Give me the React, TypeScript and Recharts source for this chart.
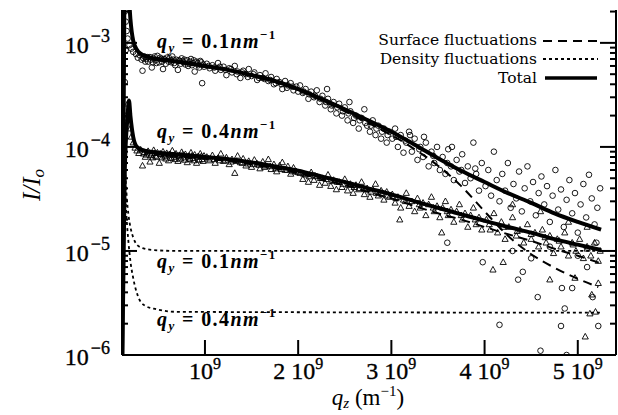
import { ComposedChart, Line, Scatter, XAxis, YAxis } from 'recharts'

// q_z in units of 1e9 m^-1, intensity I/I_o
const xTicks = [1, 2, 3, 4, 5]
const yDecades = [1e-6, 1e-5, 1e-4, 1e-3]
const yMinor = [
  2e-6, 3e-6, 4e-6, 5e-6, 6e-6, 7e-6, 8e-6, 9e-6,
  2e-5, 3e-5, 4e-5, 5e-5, 6e-5, 7e-5, 8e-5, 9e-5,
  2e-4, 3e-4, 4e-4, 5e-4, 6e-4, 7e-4, 8e-4, 9e-4, 2e-3,
]

const total01 = [
  [0.112, 8e-7], [0.135, 2.5e-3], [0.16, 5e-3], [0.18, 3.2e-3], [0.2, 1.7e-3], [0.23, 1.05e-3],
  [0.27, 8.6e-4], [0.3, 8.0e-4], [0.4, 7.3e-4], [0.6, 6.8e-4], [0.8, 6.4e-4], [1.0, 6.0e-4],
  [1.25, 5.5e-4], [1.5, 4.9e-4], [1.75, 4.3e-4], [2.0, 3.6e-4], [2.25, 2.9e-4], [2.5, 2.3e-4],
  [2.75, 1.8e-4], [3.0, 1.4e-4], [3.25, 1.05e-4], [3.5, 7.8e-5], [3.75, 5.9e-5], [4.0, 4.6e-5],
  [4.25, 3.6e-5], [4.5, 2.9e-5], [4.75, 2.3e-5], [5.0, 1.9e-5], [5.25, 1.6e-5],
]
const surface01 = [
  [0.3, 7.9e-4], [0.4, 7.2e-4], [0.6, 6.7e-4], [0.8, 6.3e-4], [1.0, 5.9e-4], [1.25, 5.4e-4],
  [1.5, 4.8e-4], [1.75, 4.2e-4], [2.0, 3.5e-4], [2.25, 2.8e-4], [2.5, 2.2e-4], [2.75, 1.7e-4],
  [3.0, 1.3e-4], [3.25, 9.5e-5], [3.5, 6.6e-5], [3.75, 4.2e-5], [4.0, 2.4e-5], [4.25, 1.4e-5],
  [4.5, 9.3e-6], [4.75, 6.9e-6], [5.0, 5.4e-6], [5.22, 4.5e-6],
]
const density01 = [
  [0.112, 9e-7], [0.125, 4e-4], [0.14, 8e-5], [0.16, 3.4e-5], [0.18, 2.2e-5], [0.2, 1.7e-5],
  [0.23, 1.35e-5], [0.27, 1.15e-5], [0.34, 1.06e-5], [0.45, 1.02e-5], [0.7, 1.0e-5], [5.25, 1.0e-5],
]
const total04 = [
  [0.112, 8e-7], [0.14, 6e-5], [0.17, 2.0e-4], [0.185, 2.8e-4], [0.2, 2.0e-4], [0.23, 1.25e-4],
  [0.27, 1.0e-4], [0.35, 9.2e-5], [0.5, 8.8e-5], [0.75, 8.4e-5], [1.0, 8.0e-5], [1.25, 7.6e-5],
  [1.5, 7.1e-5], [1.75, 6.5e-5], [2.0, 5.9e-5], [2.25, 5.2e-5], [2.5, 4.6e-5], [2.75, 4.0e-5],
  [3.0, 3.5e-5], [3.25, 3.0e-5], [3.5, 2.6e-5], [3.75, 2.25e-5], [4.0, 1.95e-5], [4.25, 1.7e-5],
  [4.5, 1.5e-5], [4.75, 1.3e-5], [5.0, 1.15e-5], [5.25, 1.02e-5],
]
const surface04 = [
  [0.3, 9.3e-5], [0.5, 8.5e-5], [0.75, 8.1e-5], [1.0, 7.7e-5], [1.25, 7.3e-5], [1.5, 6.8e-5],
  [1.75, 6.2e-5], [2.0, 5.6e-5], [2.25, 4.9e-5], [2.5, 4.3e-5], [2.75, 3.7e-5], [3.0, 3.2e-5],
  [3.25, 2.7e-5], [3.5, 2.3e-5], [3.75, 2.0e-5], [4.0, 1.7e-5], [4.25, 1.45e-5], [4.5, 1.25e-5],
  [4.75, 1.05e-5], [5.0, 9.0e-6], [5.25, 7.6e-6],
]
const density04 = [
  [0.112, 9e-7], [0.13, 1e-4], [0.15, 3e-5], [0.18, 1.2e-5], [0.2, 8e-6], [0.23, 5.5e-6],
  [0.28, 3.7e-6], [0.35, 3.0e-6], [0.48, 2.75e-6], [0.7, 2.6e-6], [5.25, 2.55e-6],
]

// measured points, q_y = 0.1 nm^-1 (circles)
const circles = [
  [0.14, 2.0e-3], [0.15, 1.6e-3], [0.16, 1.3e-3], [0.15, 8.5e-4], [0.14, 4.2e-4], [0.17, 1.1e-3],
  [0.19, 9.5e-4], [0.21, 8.8e-4], [0.23, 8.2e-4], [0.26, 7.8e-4], [0.28, 7.2e-4], [0.3, 7.6e-4],
  [0.32, 6.9e-4], [0.33, 5.4e-4], [0.35, 7.4e-4], [0.37, 7.0e-4], [0.39, 6.6e-4], [0.41, 7.3e-4],
  [0.43, 5.8e-4], [0.45, 7.1e-4], [0.47, 6.8e-4], [0.49, 7.5e-4], [0.51, 6.5e-4], [0.53, 7.0e-4],
  [0.55, 5.6e-4], [0.57, 6.9e-4], [0.59, 7.2e-4], [0.61, 6.6e-4], [0.63, 6.8e-4], [0.65, 7.4e-4],
  [0.67, 6.4e-4], [0.69, 6.9e-4], [0.71, 5.5e-4], [0.73, 6.7e-4], [0.75, 7.1e-4], [0.77, 6.5e-4],
  [0.79, 6.2e-4], [0.81, 6.8e-4], [0.83, 6.3e-4], [0.85, 7.0e-4], [0.87, 6.4e-4], [0.89, 5.3e-4],
  [0.91, 6.6e-4], [0.93, 6.1e-4], [0.95, 6.7e-4], [0.97, 4.1e-4], [0.99, 5.9e-4],
  [1.02, 6.3e-4], [1.05, 5.7e-4], [1.08, 6.1e-4], [1.11, 5.4e-4], [1.14, 6.4e-4], [1.17, 5.5e-4],
  [1.2, 5.9e-4], [1.23, 4.9e-4], [1.26, 5.7e-4], [1.29, 5.2e-4], [1.32, 6.0e-4], [1.35, 5.3e-4],
  [1.38, 4.6e-4], [1.41, 5.4e-4], [1.44, 5.0e-4], [1.47, 5.6e-4], [1.5, 4.8e-4], [1.53, 5.2e-4],
  [1.56, 4.4e-4], [1.59, 4.9e-4], [1.62, 4.6e-4], [1.65, 5.1e-4], [1.68, 4.3e-4], [1.71, 4.7e-4],
  [1.74, 4.0e-4], [1.77, 4.5e-4], [1.8, 4.2e-4], [1.83, 3.6e-4], [1.86, 4.3e-4], [1.89, 3.9e-4],
  [1.92, 4.1e-4], [1.95, 3.5e-4], [1.98, 3.8e-4],
  [2.02, 3.9e-4], [2.05, 3.3e-4], [2.08, 3.6e-4], [2.11, 2.9e-4], [2.14, 3.4e-4], [2.17, 3.0e-4],
  [2.2, 3.5e-4], [2.23, 2.7e-4], [2.26, 3.1e-4], [2.29, 2.5e-4], [2.31, 3.6e-4], [2.32, 2.9e-4],
  [2.35, 2.3e-4], [2.38, 2.7e-4], [2.41, 2.1e-4], [2.44, 2.6e-4], [2.47, 2.0e-4], [2.5, 2.4e-4],
  [2.53, 1.8e-4], [2.55, 2.7e-4], [2.56, 2.2e-4], [2.59, 1.7e-4], [2.62, 2.0e-4], [2.65, 1.5e-4],
  [2.68, 1.9e-4], [2.71, 2.3e-4], [2.74, 1.6e-4], [2.77, 1.4e-4], [2.8, 1.8e-4], [2.83, 1.3e-4],
  [2.86, 1.6e-4], [2.89, 1.2e-4], [2.92, 1.5e-4], [2.95, 1.1e-4], [2.98, 1.4e-4],
  [3.01, 1.2e-4], [3.04, 1.5e-4], [3.07, 1.0e-4], [3.1, 1.3e-4], [3.13, 8.8e-5], [3.16, 1.1e-4],
  [3.19, 1.4e-4], [3.22, 9.0e-5], [3.25, 1.2e-4], [3.28, 7.5e-5], [3.31, 1.0e-4], [3.34, 8.0e-5],
  [3.37, 1.1e-4], [3.4, 6.5e-5], [3.43, 9.0e-5], [3.46, 7.0e-5], [3.49, 1.0e-4], [3.52, 6.0e-5],
  [3.55, 8.0e-5], [3.58, 5.5e-5], [3.61, 9.5e-5], [3.64, 6.5e-5], [3.67, 4.8e-5], [3.7, 7.5e-5],
  [3.73, 5.8e-5], [3.76, 8.5e-5], [3.79, 4.5e-5], [3.82, 6.5e-5], [3.85, 5.0e-5], [3.88, 1.1e-4],
  [3.91, 5.5e-5], [3.94, 3.8e-5], [3.97, 7.0e-5], [3.6, 1.2e-5], [3.98, 7.8e-6],
  [4.01, 4.2e-5], [4.04, 6.0e-5], [4.07, 3.4e-5], [4.1, 9.0e-5], [4.13, 4.8e-5], [4.16, 3.0e-5],
  [4.19, 5.5e-5], [4.22, 3.8e-5], [4.25, 7.0e-5], [4.28, 2.6e-5], [4.31, 4.4e-5], [4.34, 3.2e-5],
  [4.37, 5.8e-5], [4.4, 2.4e-5], [4.43, 4.0e-5], [4.46, 6.5e-5], [4.49, 3.0e-5], [4.52, 4.6e-5],
  [4.55, 2.2e-5], [4.58, 3.6e-5], [4.61, 5.2e-5], [4.64, 2.8e-5], [4.67, 4.2e-5], [4.7, 1.9e-5],
  [4.73, 3.4e-5], [4.76, 6.0e-5], [4.79, 2.5e-5], [4.82, 3.9e-5], [4.85, 1.7e-5], [4.88, 3.1e-5],
  [4.91, 4.8e-5], [4.94, 2.3e-5], [4.97, 3.6e-5], [5.0, 1.5e-5], [5.03, 2.8e-5], [5.06, 4.4e-5],
  [5.09, 2.1e-5], [5.12, 5.4e-5], [5.15, 3.2e-5], [5.18, 1.8e-5], [5.21, 2.6e-5], [5.24, 4.0e-5],
  [4.3, 1.0e-5], [4.7, 1.1e-5], [5.0, 9e-6], [5.2, 1.2e-5], [4.5, 8.5e-6], [5.1, 7e-6],
  [4.36, 5.3e-6], [4.41, 6.3e-6], [4.57, 3.6e-6], [4.83, 4.4e-6], [4.94, 4.4e-6], [5.16, 3.6e-6],
  [4.86, 2.8e-6], [4.16, 1.95e-6], [4.82, 1.9e-6], [5.22, 1.9e-6], [4.6, 1.1e-6], [4.88, 1.0e-6],
]
// second pass over the dense band of the same run
const circlesBand = [
  [0.34, 7.1e-4], [0.36, 6.6e-4], [0.38, 7.3e-4], [0.42, 6.9e-4], [0.44, 6.5e-4], [0.46, 7.4e-4],
  [0.48, 6.4e-4], [0.52, 7.2e-4], [0.54, 6.6e-4], [0.56, 7.0e-4], [0.58, 6.3e-4], [0.62, 7.1e-4],
  [0.64, 6.5e-4], [0.66, 6.9e-4], [0.68, 6.1e-4], [0.72, 6.8e-4], [0.74, 6.3e-4], [0.76, 6.7e-4],
  [0.78, 6.9e-4], [0.82, 6.0e-4], [0.84, 6.6e-4], [0.86, 6.1e-4], [0.88, 6.8e-4], [0.92, 6.4e-4],
  [0.94, 5.8e-4], [0.96, 6.5e-4], [0.98, 6.2e-4], [1.04, 6.0e-4], [1.1, 5.8e-4], [1.16, 5.9e-4],
  [1.22, 5.5e-4], [1.28, 5.6e-4], [1.34, 5.0e-4], [1.4, 5.2e-4], [1.46, 4.7e-4], [1.52, 5.0e-4],
  [1.58, 4.6e-4], [1.64, 4.5e-4], [1.7, 4.4e-4], [1.76, 4.1e-4], [1.82, 4.0e-4], [1.88, 3.7e-4],
  [1.94, 3.8e-4], [2.0, 3.4e-4], [2.06, 3.4e-4], [2.12, 3.2e-4], [2.18, 3.1e-4], [2.24, 2.9e-4],
  [2.3, 2.7e-4], [2.36, 2.5e-4], [2.42, 2.4e-4], [2.48, 2.2e-4], [2.54, 2.1e-4], [2.6, 1.9e-4],
  [2.66, 1.8e-4], [2.72, 1.7e-4], [2.78, 1.6e-4], [2.84, 1.5e-4], [2.9, 1.4e-4], [2.96, 1.3e-4],
  [3.05, 1.25e-4], [3.15, 1.15e-4], [3.3, 9.5e-5], [3.45, 8.2e-5], [3.6, 7.0e-5], [3.75, 6.0e-5],
  [3.9, 6.2e-5], [3.2, 1.3e-4], [3.35, 1.25e-4], [3.65, 1.0e-4],
]

// measured points, q_y = 0.4 nm^-1 (triangles)
const triangles = [
  [0.16, 1.9e-4], [0.17, 2.6e-4], [0.18, 2.2e-4], [0.19, 1.8e-4], [0.2, 1.5e-4], [0.21, 1.25e-4],
  [0.23, 1.1e-4], [0.25, 9.8e-5], [0.27, 9.2e-5], [0.29, 8.7e-5], [0.31, 9.4e-5], [0.33, 6.6e-5],
  [0.35, 8.9e-5], [0.37, 8.4e-5], [0.39, 9.1e-5], [0.41, 7.2e-5], [0.43, 8.6e-5], [0.45, 9.3e-5],
  [0.47, 8.2e-5], [0.49, 8.8e-5], [0.51, 7.0e-5], [0.53, 8.5e-5], [0.55, 9.0e-5], [0.57, 8.1e-5],
  [0.59, 8.7e-5], [0.61, 7.4e-5], [0.63, 8.4e-5], [0.65, 9.2e-5], [0.67, 8.0e-5], [0.69, 8.6e-5],
  [0.71, 7.3e-5], [0.73, 8.3e-5], [0.75, 8.9e-5], [0.77, 7.9e-5], [0.79, 8.5e-5], [0.81, 7.1e-5],
  [0.83, 8.2e-5], [0.85, 8.8e-5], [0.87, 7.8e-5], [0.89, 8.4e-5], [0.91, 7.0e-5], [0.93, 8.1e-5],
  [0.95, 8.6e-5], [0.97, 7.6e-5], [0.99, 8.2e-5],
  [1.02, 8.0e-5], [1.05, 7.4e-5], [1.08, 8.3e-5], [1.11, 7.0e-5], [1.14, 7.8e-5], [1.17, 8.6e-5],
  [1.2, 7.3e-5], [1.23, 7.9e-5], [1.26, 6.8e-5], [1.29, 7.6e-5], [1.32, 5.6e-5], [1.35, 8.2e-5],
  [1.38, 7.1e-5], [1.41, 7.7e-5], [1.44, 6.6e-5], [1.47, 7.3e-5], [1.5, 6.4e-5], [1.53, 7.5e-5],
  [1.56, 6.9e-5], [1.59, 6.2e-5], [1.62, 7.2e-5], [1.65, 6.6e-5], [1.68, 7.6e-5], [1.71, 6.1e-5],
  [1.74, 6.8e-5], [1.77, 5.8e-5], [1.8, 6.6e-5], [1.83, 7.1e-5], [1.86, 6.0e-5], [1.89, 6.5e-5],
  [1.92, 5.5e-5], [1.95, 6.3e-5], [1.98, 5.8e-5],
  [2.02, 5.6e-5], [2.05, 4.9e-5], [2.08, 5.4e-5], [2.11, 4.6e-5], [2.14, 5.7e-5], [2.17, 4.8e-5],
  [2.2, 5.2e-5], [2.23, 4.3e-5], [2.26, 5.0e-5], [2.29, 4.5e-5], [2.32, 5.4e-5], [2.35, 4.2e-5],
  [2.38, 4.8e-5], [2.41, 3.9e-5], [2.44, 4.6e-5], [2.47, 4.1e-5], [2.5, 4.9e-5], [2.53, 3.8e-5],
  [2.56, 4.4e-5], [2.59, 3.6e-5], [2.62, 4.3e-5], [2.65, 3.9e-5], [2.68, 4.6e-5], [2.71, 3.5e-5],
  [2.74, 4.0e-5], [2.77, 3.3e-5], [2.8, 3.9e-5], [2.83, 4.4e-5], [2.86, 3.4e-5], [2.89, 3.8e-5],
  [2.92, 3.1e-5], [2.95, 3.7e-5], [2.98, 3.3e-5],
  [3.01, 3.5e-5], [3.04, 2.9e-5], [3.07, 3.3e-5], [3.09, 2.0e-5], [3.1, 2.6e-5], [3.13, 3.1e-5],
  [3.16, 3.6e-5], [3.19, 2.7e-5], [3.22, 3.0e-5], [3.25, 2.4e-5], [3.28, 3.2e-5], [3.31, 2.6e-5],
  [3.34, 2.9e-5], [3.37, 2.2e-5], [3.4, 2.8e-5], [3.43, 3.3e-5], [3.46, 2.4e-5], [3.49, 2.7e-5],
  [3.52, 2.1e-5], [3.54, 1.5e-5], [3.55, 2.6e-5], [3.58, 3.0e-5], [3.61, 2.2e-5], [3.64, 2.5e-5],
  [3.67, 1.9e-5], [3.7, 2.4e-5], [3.73, 2.8e-5], [3.76, 2.0e-5], [3.79, 2.3e-5], [3.82, 1.7e-5],
  [3.85, 2.2e-5], [3.88, 2.6e-5], [3.91, 1.8e-5], [3.94, 2.1e-5], [3.97, 1.6e-5],
  [4.02, 2.0e-5], [4.06, 1.6e-5], [4.1, 2.3e-5], [4.14, 1.5e-5], [4.18, 1.9e-5], [4.22, 1.3e-5],
  [4.26, 1.7e-5], [4.3, 2.1e-5], [4.34, 1.4e-5], [4.38, 1.6e-5], [4.42, 1.2e-5], [4.46, 1.8e-5],
  [4.5, 1.3e-5], [4.54, 1.5e-5], [4.58, 1.1e-5], [4.62, 1.6e-5], [4.66, 1.2e-5], [4.7, 1.4e-5],
  [4.74, 9.5e-6], [4.78, 1.3e-5], [4.82, 1.1e-5], [4.86, 1.5e-5], [4.9, 9.0e-6], [4.94, 1.2e-5],
  [4.98, 1.0e-5], [5.02, 1.3e-5], [5.06, 8.5e-6], [5.1, 1.1e-5], [5.14, 9.0e-6], [5.18, 1.2e-5],
  [5.22, 8.0e-6], [5.24, 1.0e-5], [4.3, 2.8e-5], [4.6, 2.4e-5], [4.9, 1.9e-5], [5.1, 1.7e-5],
  [4.09, 6.6e-6], [4.2, 7.8e-6], [4.7, 5.3e-6], [4.97, 5.5e-6], [5.22, 4.9e-6], [5.08, 1.5e-6],
  [5.13, 2.5e-6], [5.19, 2.6e-6], [5.15, 3.8e-6],
]
const trianglesBand = [
  [0.34, 8.6e-5], [0.36, 8.0e-5], [0.38, 8.8e-5], [0.42, 8.3e-5], [0.44, 7.9e-5], [0.46, 8.7e-5],
  [0.48, 8.0e-5], [0.52, 8.6e-5], [0.54, 7.9e-5], [0.56, 8.4e-5], [0.58, 7.7e-5], [0.62, 8.5e-5],
  [0.64, 7.8e-5], [0.66, 8.3e-5], [0.68, 7.6e-5], [0.72, 8.2e-5], [0.74, 7.7e-5], [0.76, 8.4e-5],
  [0.78, 7.5e-5], [0.82, 8.1e-5], [0.84, 7.6e-5], [0.86, 8.2e-5], [0.88, 7.4e-5], [0.92, 8.0e-5],
  [0.94, 7.5e-5], [0.96, 8.1e-5], [0.98, 7.3e-5], [1.04, 7.7e-5], [1.1, 7.6e-5], [1.16, 7.4e-5],
  [1.22, 7.5e-5], [1.28, 7.2e-5], [1.34, 7.3e-5], [1.4, 7.0e-5], [1.46, 6.9e-5], [1.52, 6.8e-5],
  [1.58, 6.7e-5], [1.64, 6.4e-5], [1.7, 6.5e-5], [1.76, 6.2e-5], [1.82, 6.1e-5], [1.88, 6.0e-5],
  [1.94, 5.8e-5], [2.0, 5.7e-5], [2.06, 5.5e-5], [2.12, 5.2e-5], [2.18, 5.3e-5], [2.24, 5.0e-5],
  [2.3, 4.9e-5], [2.36, 4.7e-5], [2.42, 4.6e-5], [2.48, 4.4e-5], [2.54, 4.3e-5], [2.6, 4.1e-5],
  [2.66, 4.0e-5], [2.72, 3.9e-5], [2.78, 3.7e-5], [2.84, 3.6e-5], [2.9, 3.5e-5], [2.96, 3.4e-5],
  [3.05, 3.2e-5], [3.15, 3.0e-5], [3.3, 2.8e-5], [3.45, 2.6e-5], [3.6, 2.4e-5], [3.75, 2.2e-5],
  [3.9, 2.0e-5], [4.05, 1.8e-5], [4.2, 1.7e-5], [4.35, 1.55e-5], [4.5, 1.45e-5], [4.65, 1.35e-5],
  [4.8, 1.25e-5], [4.95, 1.15e-5], [5.1, 1.05e-5],
]

const toXY = (arr: number[][]) => arr.map(([x, y]) => ({ x, y }))

const L = 122, R = 616, T = 10, B = 355
const serif = '"Liberation Serif", "DejaVu Serif", serif'

const CircleMark = (p: any) => p.cx == null ? null : (
  <circle cx={p.cx} cy={p.cy} r={2.8} fill="none" stroke="#000" strokeWidth={0.9} />
)
const TriMark = (p: any) => p.cx == null ? null : (
  <polygon
    points={`${p.cx},${p.cy - 3.3} ${p.cx - 3.1},${p.cy + 2.3} ${p.cx + 3.1},${p.cy + 2.3}`}
    fill="none" stroke="#000" strokeWidth={0.9}
  />
)

const BottomTick = ({ x, payload }: any) => {
  const v = payload.value
  return (
    <g>
      <line x1={x} y1={B} x2={x} y2={B - 15} stroke="#000" strokeWidth={2} />
      <text x={x} y={B + 24} textAnchor="middle" fontFamily={serif} fontSize={24} fill="#000"
        stroke="#000" strokeWidth={0.35}>
        {v === 1 ? '10' : `${v} 10`}
        <tspan dy={-10} fontSize={16}>9</tspan>
      </text>
    </g>
  )
}
const TopTick = ({ x }: any) => (
  <line x1={x} y1={T} x2={x} y2={T + 15} stroke="#000" strokeWidth={2} />
)
const isDecade = (v: number) => yDecades.some(d => Math.abs(d - v) / d < 1e-6)
const LeftTick = ({ y, payload }: any) => {
  const v = payload.value
  const major = isDecade(v)
  return (
    <g>
      <line x1={L} y1={y} x2={L + (major ? 15 : 6)} y2={y} stroke="#000" strokeWidth={2} />
      {major && (
        <text x={110} y={y + 10} textAnchor="end" fontFamily={serif} fontSize={24} fill="#000"
          stroke="#000" strokeWidth={0.35}>
          10<tspan dx={2} dy={-11} fontSize={18}>{`\u2212${Math.round(-Math.log10(v))}`}</tspan>
        </text>
      )}
    </g>
  )
}
const RightTick = ({ y, payload }: any) => {
  const major = isDecade(payload.value)
  return <line x1={R} y1={y} x2={R - (major ? 16 : 6)} y2={y} stroke="#000" strokeWidth={2} />
}

const QLabel = ({ x, y, v }: { x: number; y: number; v: string }) => (
  <text x={x} y={y} fontFamily={serif} fontSize={20} fontWeight="bold" fill="#000" letterSpacing={1.4}>
    <tspan fontStyle="italic">q</tspan>
    <tspan fontStyle="italic" fontSize={13} dy={4}>y</tspan>
    <tspan dy={-4}>{` = ${v}`}</tspan>
    <tspan fontStyle="italic">nm</tspan>
    <tspan fontSize={13} dy={-9}>{'\u22121'}</tspan>
  </text>
)

export default function App() {
  const yDomain = [1e-6, 2.07e-3]
  const xDomain = [0.11, 5.41]
  const yTicks = [...yDecades, ...yMinor].sort((a, b) => a - b)
  return (
    <div style={{ position: 'absolute', left: 0, top: 0, width: 618, height: 415, background: '#fff' }}>
      <ComposedChart width={618} height={415} margin={{ top: T, right: 0, bottom: 0, left: 0 }}>
        <XAxis
          dataKey="x" type="number" domain={xDomain} allowDataOverflow ticks={xTicks} interval={0}
          height={60} tickSize={0} tickMargin={0} tick={<BottomTick />}
          axisLine={{ stroke: '#000', strokeWidth: 2 }}
        />
        <XAxis
          xAxisId="top" orientation="top" dataKey="x" type="number" domain={xDomain} allowDataOverflow
          ticks={xTicks} interval={0} height={0} tickSize={0} tickMargin={0} tick={<TopTick />}
          axisLine={{ stroke: '#000', strokeWidth: 2 }}
        />
        <YAxis
          type="number" scale="log" domain={yDomain} allowDataOverflow ticks={yTicks} interval={0}
          width={L} tickSize={0} tickMargin={0} tick={<LeftTick />}
          axisLine={{ stroke: '#000', strokeWidth: 2 }}
        />
        <YAxis
          yAxisId="right" orientation="right" type="number" scale="log" domain={yDomain} allowDataOverflow
          ticks={yTicks} interval={0} width={618 - R} tickSize={0} tickMargin={0} tick={<RightTick />}
          axisLine={{ stroke: '#000', strokeWidth: 2 }}
        />
        <Scatter data={toXY(circles)} dataKey="y" shape={<CircleMark />} isAnimationActive={false} />
        <Scatter data={toXY(circlesBand)} dataKey="y" shape={<CircleMark />} isAnimationActive={false} />
        <Scatter data={toXY(triangles)} dataKey="y" shape={<TriMark />} isAnimationActive={false} />
        <Scatter data={toXY(trianglesBand)} dataKey="y" shape={<TriMark />} isAnimationActive={false} />
        <Line data={toXY(density01)} dataKey="y" type="monotone" stroke="#000" strokeWidth={1.8}
          strokeDasharray="3 3" dot={false} isAnimationActive={false} />
        <Line data={toXY(density04)} dataKey="y" type="monotone" stroke="#000" strokeWidth={1.8}
          strokeDasharray="3 3" dot={false} isAnimationActive={false} />
        <Line data={toXY(surface01)} dataKey="y" type="monotone" stroke="#000" strokeWidth={2}
          strokeDasharray="9 6" dot={false} isAnimationActive={false} />
        <Line data={toXY(surface04)} dataKey="y" type="monotone" stroke="#000" strokeWidth={2}
          strokeDasharray="9 6" dot={false} isAnimationActive={false} />
        <Line data={toXY(total01)} dataKey="y" type="monotone" stroke="#000" strokeWidth={4}
          dot={false} isAnimationActive={false} />
        <Line data={toXY(total04)} dataKey="y" type="monotone" stroke="#000" strokeWidth={4}
          dot={false} isAnimationActive={false} />
      </ComposedChart>
      <svg width={618} height={415} style={{ position: 'absolute', left: 0, top: 0, pointerEvents: 'none' }}>
        <QLabel x={157} y={48} v="0.1" />
        <QLabel x={157} y={138} v="0.4" />
        <QLabel x={157} y={268} v="0.1" />
        <QLabel x={157} y={326} v="0.4" />
        <g fontFamily='"DejaVu Serif", serif' fontSize={15.5} fill="#000" textAnchor="end">
          <text x={537} y={45}>Surface fluctuations</text>
          <text x={537} y={64}>Density fluctuations</text>
          <text x={537} y={83}>Total</text>
        </g>
        <line x1={543} y1={41} x2={598} y2={41} stroke="#000" strokeWidth={2} strokeDasharray="9 6" />
        <line x1={543} y1={59} x2={598} y2={59} stroke="#000" strokeWidth={1.8} strokeDasharray="3 3" />
        <line x1={545} y1={78} x2={597} y2={78} stroke="#000" strokeWidth={3.5} />
        <text x={368} y={405} textAnchor="middle" fontFamily={serif} fontSize={23} fill="#000">
          <tspan fontStyle="italic">q</tspan>
          <tspan fontStyle="italic" fontSize={15} dy={3}>z</tspan>
          <tspan dy={-3}>{' (m'}</tspan>
          <tspan fontSize={15} dy={-9}>{'\u22121'}</tspan>
          <tspan dy={9}>)</tspan>
        </text>
        <text transform="translate(40,185) rotate(-90)" textAnchor="middle" fontFamily={serif}
          fontSize={25} fontStyle="italic" fill="#000">
          I/I<tspan fontSize={17} dy={4}>o</tspan>
        </text>
      </svg>
    </div>
  )
}
